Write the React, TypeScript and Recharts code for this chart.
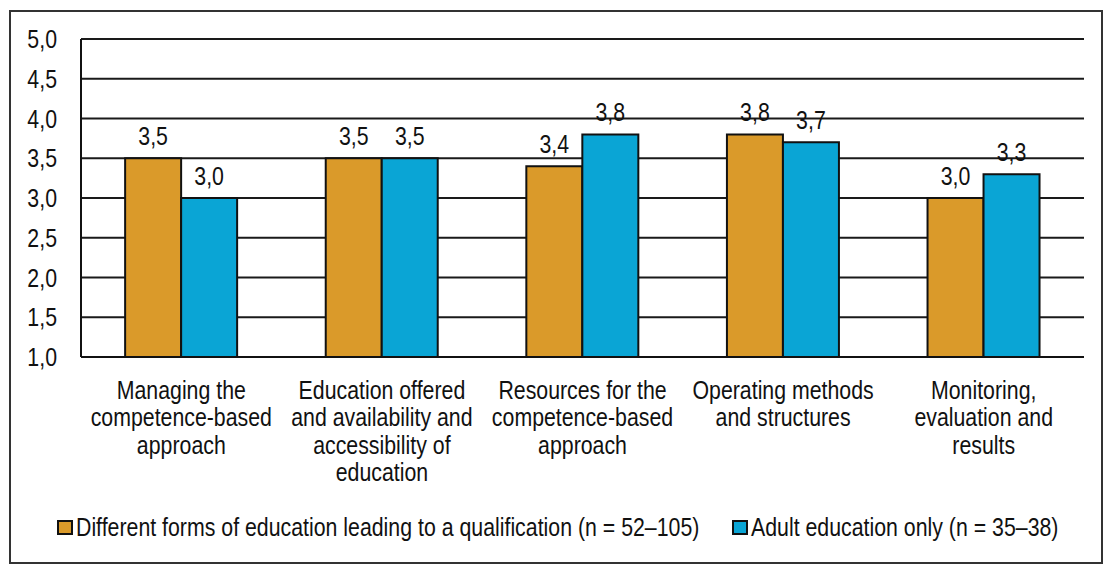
import { BarChart, Bar, XAxis, YAxis, CartesianGrid, Legend, LabelList } from "recharts";

const categories = [
  ["Managing the", "competence-based", "approach"],
  ["Education offered", "and availability and", "accessibility of", "education"],
  ["Resources for the", "competence-based", "approach"],
  ["Operating methods", "and structures"],
  ["Monitoring,", "evaluation and", "results"],
];
const qualification = [3.5, 3.5, 3.4, 3.8, 3.0];
const adultOnly = [3.0, 3.5, 3.8, 3.7, 3.3];
const yTicks = [1.0, 1.5, 2.0, 2.5, 3.0, 3.5, 4.0, 4.5, 5.0];
const seriesNames = [
  "Different forms of education leading to a qualification (n = 52\u2013105)",
  "Adult education only (n = 35\u201338)",
];

const ORANGE = "#DA9A2A";
const BLUE = "#0AA5D5";
const FONT = "'Liberation Sans', Arial, sans-serif";
const FS = 26;
const NARROW = 0.82; // arial narrow look

const data = categories.map((lines, i) => ({
  name: lines.join(" "),
  qual: qualification[i],
  adult: adultOnly[i],
}));

const fmt = (v: number) => v.toFixed(1).replace(".", ",");

function NarrowText({ x, y, anchor = "middle", dy, children }: any) {
  return (
    <text
      transform={`translate(${x},${y}) scale(${NARROW},1)`}
      x={0}
      y={0}
      dy={dy}
      textAnchor={anchor}
      fontSize={FS}
      fill="#111"
      fontFamily={FONT}
    >
      {children}
    </text>
  );
}

function CategoryTick(props: any) {
  const { x, y, payload } = props;
  const lines = categories[payload.index] ?? [String(payload.value)];
  return (
    <NarrowText x={x} y={y + 34}>
      {lines.map((l, i) => (
        <tspan key={i} x={0} dy={i === 0 ? 0 : 27.5}>
          {l}
        </tspan>
      ))}
    </NarrowText>
  );
}

function ValueTick(props: any) {
  const { x, y, payload } = props;
  return (
    <NarrowText x={x} y={y} anchor="end" dy="0.355em">
      {fmt(Number(payload.value))}
    </NarrowText>
  );
}

function BarValue(props: any) {
  const { x, y, width, value } = props;
  return (
    <NarrowText x={Number(x) + Number(width) / 2} y={Number(y) - 13}>
      {fmt(Number(value))}
    </NarrowText>
  );
}

function LegendBox() {
  const colors = [ORANGE, BLUE];
  const markerX = [50, 725];
  return (
    <svg width={1096} height={60} style={{ display: "block" }}>
      {seriesNames.map((n, i) => (
        <g key={n}>
          <rect x={markerX[i]} y={16} width={14} height={13} fill={colors[i]} stroke="#111" strokeWidth={2} />
          <NarrowText x={markerX[i] + 18} y={31} anchor="start">
            {n}
          </NarrowText>
        </g>
      ))}
    </svg>
  );
}

export default function App() {
  return (
    <div style={{ position: "relative", width: 1096, height: 557, background: "#fff" }}>
      <BarChart
        width={1096}
        height={557}
        data={data}
        margin={{ top: 31, right: 20, left: 0, bottom: 0 }}
        barCategoryGap="22%"
        barGap={0}
      >
        <CartesianGrid vertical={false} stroke="#1a1a1a" strokeWidth={2} />
        <XAxis
          dataKey="name"
          height={148}
          tick={<CategoryTick />}
          tickLine={false}
          axisLine={{ stroke: "#111", strokeWidth: 2 }}
          interval={0}
        />
        <YAxis
          domain={[1, 5]}
          ticks={yTicks}
          width={73}
          tickSize={0}
          tickMargin={24}
          tick={<ValueTick />}
          axisLine={{ stroke: "#111", strokeWidth: 2 }}
          allowDataOverflow
        />
        <YAxis
          yAxisId="r"
          orientation="right"
          domain={[1, 5]}
          width={0}
          tick={false}
          tickLine={false}
          axisLine={{ stroke: "#111", strokeWidth: 2 }}
        />
        <Legend verticalAlign="bottom" height={60} content={<LegendBox />} />
        <Bar dataKey="qual" fill={ORANGE} stroke="#111" strokeWidth={2} isAnimationActive={false}>
          <LabelList dataKey="qual" content={<BarValue />} />
        </Bar>
        <Bar dataKey="adult" fill={BLUE} stroke="#111" strokeWidth={2} isAnimationActive={false}>
          <LabelList dataKey="adult" content={<BarValue />} />
        </Bar>
      </BarChart>
      <div
        style={{
          position: "absolute",
          left: 1,
          top: 2,
          width: 1094,
          height: 554,
          border: "2px solid #333",
          boxSizing: "border-box",
          pointerEvents: "none",
        }}
      />
    </div>
  );
}
